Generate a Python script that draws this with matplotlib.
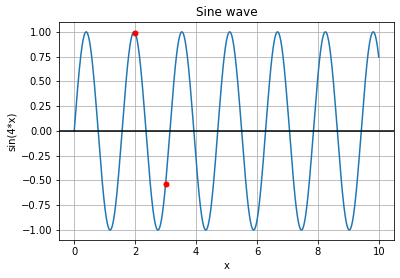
import numpy as np
import matplotlib
matplotlib.use("Agg")
import matplotlib.pyplot as plt

# Data: the curve is y = sin(4*x) as stated by the axis label
x_start, x_stop, n_points = 0.0, 10.0, 1000
frequency = 4
marked_x = [2, 3]
marked_y = [0.989, -0.537]

x = np.linspace(x_start, x_stop, n_points)
y = np.sin(frequency * x)

plt.rcParams['font.size'] = 10
fig = plt.figure(figsize=(400 / 72, 278 / 72), dpi=72)
ax = fig.add_axes([0.1475, 0.137, 0.8375, 0.784])
ax.plot(x, y, color='#1f77b4', linewidth=1.5)
ax.axhline(0, color='black', linewidth=1.5)
ax.plot(marked_x, marked_y, 'o', color='red', markersize=5)
ax.grid(True)
ax.set_title('Sine wave')
ax.set_xlabel('x')
ax.set_ylabel('sin(4*x)')
fig.savefig('out.png', dpi=72)
